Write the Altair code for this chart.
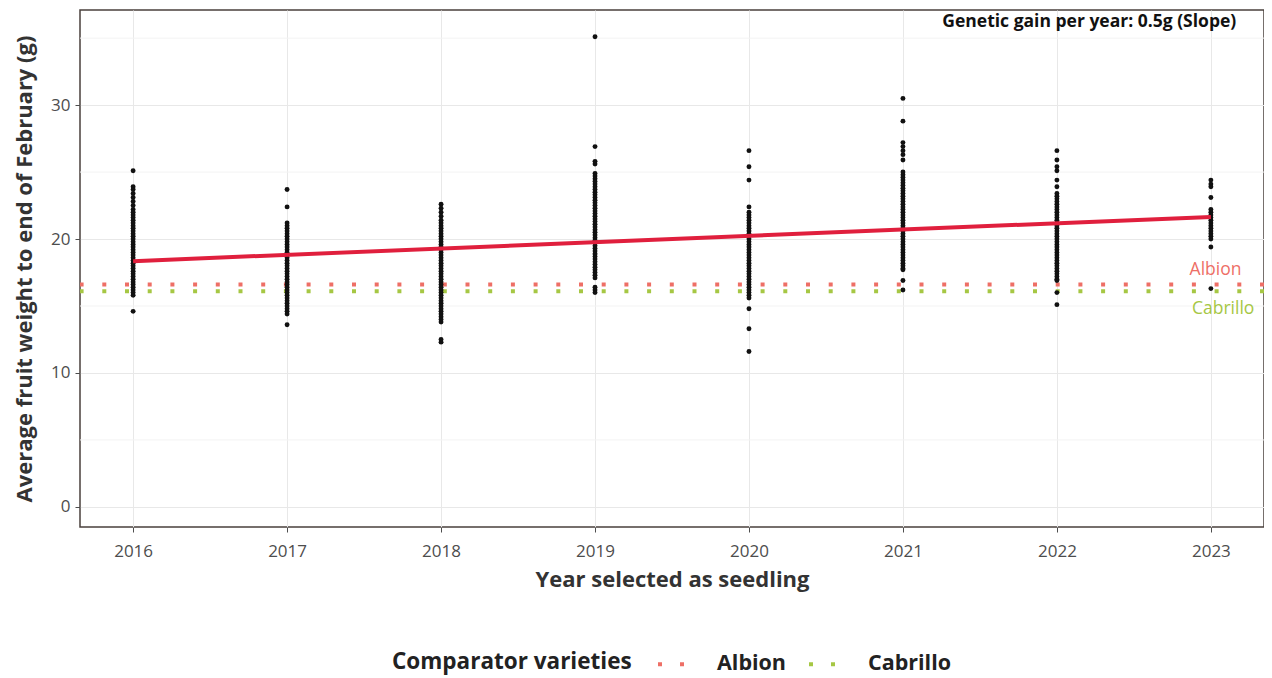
import altair as alt
import pandas as pd

years = [2016, 2017, 2018, 2019, 2020, 2021, 2022, 2023]

w2016 = [25.1, 23.9, 23.7, 23.4, 23.1, 22.8, 22.5, 22.2, 22.0, 21.8, 21.6, 21.4, 21.2, 21.0, 20.8, 20.6,
         20.4, 20.2, 20.0, 19.8, 19.6, 19.4, 19.2, 19.0, 18.8, 18.6, 18.4, 18.2, 18.0, 17.8, 17.6, 17.4,
         17.2, 17.0, 16.8, 16.6, 16.4, 16.2, 16.0, 15.8, 14.6]
w2017 = [23.7, 22.4, 21.2, 21.0, 20.8, 20.6, 20.4, 20.2, 20.0, 19.8, 19.6, 19.4, 19.2, 19.0, 18.8, 18.6,
         18.4, 18.2, 18.0, 17.8, 17.6, 17.4, 17.2, 17.0, 16.8, 16.6, 16.4, 16.2, 16.0, 15.8, 15.6, 15.4,
         15.2, 15.0, 14.8, 14.6, 14.4, 13.6]
w2018 = [22.6, 22.3, 22.0, 21.7, 21.4, 21.2, 21.0, 20.8, 20.6, 20.4, 20.2, 20.0, 19.8, 19.6, 19.4, 19.2,
         19.0, 18.8, 18.6, 18.4, 18.2, 18.0, 17.8, 17.6, 17.4, 17.2, 17.0, 16.8, 16.6, 16.4, 16.2, 16.0,
         15.8, 15.6, 15.4, 15.2, 15.0, 14.8, 14.6, 14.4, 14.2, 14.0, 13.8, 12.5, 12.3]
w2019 = [35.1, 26.9, 25.8, 25.6, 24.9, 24.7, 24.5, 24.3, 24.1, 23.9, 23.7, 23.5, 23.3, 23.1, 22.9, 22.7,
         22.5, 22.3, 22.1, 21.9, 21.7, 21.5, 21.3, 21.1, 20.9, 20.7, 20.5, 20.3, 20.1, 19.9, 19.7, 19.5,
         19.3, 19.1, 18.9, 18.7, 18.5, 18.3, 18.1, 17.9, 17.7, 17.5, 17.3, 17.1, 16.4, 16.2, 16.0]
w2020 = [26.6, 25.4, 24.4, 22.4, 22.0, 21.8, 21.6, 21.4, 21.2, 21.0, 20.8, 20.6, 20.4, 20.2, 20.0, 19.8,
         19.6, 19.4, 19.2, 19.0, 18.8, 18.6, 18.4, 18.2, 18.0, 17.8, 17.6, 17.4, 17.2, 17.0, 16.8, 16.6,
         16.4, 16.2, 16.0, 15.8, 15.6, 14.8, 13.3, 11.6]
w2021 = [30.5, 28.8, 27.2, 26.9, 26.6, 26.3, 25.9, 25.0, 24.8, 24.6, 24.4, 24.2, 24.0, 23.8, 23.6, 23.4,
         23.2, 23.0, 22.8, 22.6, 22.4, 22.2, 22.0, 21.8, 21.6, 21.4, 21.2, 21.0, 20.8, 20.6, 20.4, 20.2,
         20.0, 19.8, 19.6, 19.4, 19.2, 19.0, 18.8, 18.6, 18.4, 18.2, 18.0, 17.8, 17.7, 16.9, 16.2]
w2022 = [26.6, 25.9, 25.4, 25.1, 24.4, 23.9, 23.4, 23.2, 23.0, 22.8, 22.6, 22.4, 22.2, 22.0, 21.8, 21.6,
         21.4, 21.2, 21.0, 20.8, 20.6, 20.4, 20.2, 20.0, 19.8, 19.6, 19.4, 19.2, 19.0, 18.8, 18.6, 18.4,
         18.2, 18.0, 17.8, 17.6, 17.4, 17.2, 17.0, 16.9, 16.0, 15.1]
w2023 = [24.4, 24.1, 23.9, 23.1, 22.2, 22.0, 21.8, 21.6, 21.4, 21.2, 21.0, 20.8, 20.6, 20.4, 20.2, 20.0,
         19.4, 16.3]

fit_years = [2016, 2023]
fit_values = [18.35, 21.65]

comparator_names = ["Albion", "Cabrillo"]
comparator_values = [16.6, 16.1]
comparator_colors = ["#EE6F66", "#A6C744"]

minor_y = [5, 15, 25, 35]
x_ticks = years
y_ticks = [0, 10, 20, 30]

annotation = "Genetic gain per year: 0.5g (Slope)"

FONT = "Open Sans"

per_year = [w2016, w2017, w2018, w2019, w2020, w2021, w2022, w2023]
rows = []
for yr, vals in zip(years, per_year):
    for v in vals:
        rows.append({"year": yr, "weight": v})
pts = pd.DataFrame(rows)

fit = pd.DataFrame({"year": fit_years, "weight": fit_values})
comp = pd.DataFrame({"variety": comparator_names, "weight": comparator_values})
minor = pd.DataFrame({"weight": minor_y})

xscale = alt.Scale(domain=[2015.655, 2023.345], nice=False, zero=False)
yscale = alt.Scale(domain=[-1.5, 37.1], nice=False, zero=False)

xaxis = alt.Axis(values=x_ticks, format="d", title="Year selected as seedling",
                 labelPadding=11, titlePadding=10)
yaxis = alt.Axis(values=y_ticks, title="Average fruit weight to end of February (g)",
                 labelPadding=5, titlePadding=14)

minor_layer = alt.Chart(minor).mark_rule(color="#F3F3F3", strokeWidth=1).encode(
    y=alt.Y("weight:Q", scale=yscale, axis=yaxis)
)

points = alt.Chart(pts).mark_circle(size=24, color="#111111", opacity=1).encode(
    x=alt.X("year:Q", scale=xscale, axis=xaxis),
    y=alt.Y("weight:Q", scale=yscale, axis=yaxis),
)

comp_layer = alt.Chart(comp).mark_rule(strokeWidth=4, strokeDash=[4, 18.7], strokeCap="butt").encode(
    y=alt.Y("weight:Q", scale=yscale, axis=yaxis),
    color=alt.Color(
        "variety:N",
        scale=alt.Scale(domain=comparator_names, range=comparator_colors),
        legend=alt.Legend(
            title="Comparator varieties", orient="none", direction="horizontal",
            titleOrient="left", legendX=312, legendY=639, titleLimit=400, labelLimit=300,
            symbolType="stroke", symbolStrokeWidth=4, symbolDash=[4, 18],
            symbolSize=676, labelOffset=31, columnPadding=14, titlePadding=24,
            labelFontSize=21.5, labelFontWeight="bold", labelColor="#222222",
            titleFontSize=22.5, titleFontWeight="bold", titleColor="#222222",
        ),
    ),
)

fit_layer = alt.Chart(fit).mark_line(color="#E01F3D", strokeWidth=4).encode(
    x=alt.X("year:Q", scale=xscale, axis=xaxis),
    y=alt.Y("weight:Q", scale=yscale, axis=yaxis),
)

lab = pd.DataFrame({"variety": comparator_names, "x": [2023.03, 2023.08], "y": [17.7, 14.8]})
labels = alt.Chart(lab).mark_text(fontSize=17.5, font=FONT).encode(
    x=alt.X("x:Q", scale=xscale, axis=xaxis),
    y=alt.Y("y:Q", scale=yscale, axis=yaxis),
    text="variety:N",
    color=alt.Color("variety:N", scale=alt.Scale(domain=comparator_names, range=comparator_colors), legend=None),
)

ann = pd.DataFrame({"x": [2023.165], "y": [36.2], "t": [annotation]})
ann_layer = alt.Chart(ann).mark_text(fontSize=17.5, fontWeight="bold", font=FONT, align="right",
                                     baseline="middle", color="#111111").encode(
    x=alt.X("x:Q", scale=xscale, axis=xaxis),
    y=alt.Y("y:Q", scale=yscale, axis=yaxis),
    text="t:N",
)

chart = alt.layer(minor_layer, comp_layer, points, fit_layer, labels, ann_layer).properties(
    width=1184, height=517,
    autosize=alt.AutoSizeParams(type="none"),
    padding={"left": 72, "top": 2, "right": 0, "bottom": 151},
).configure(font=FONT).configure_view(
    stroke="#4A403C", strokeWidth=1.5
).configure_axis(
    labelFontSize=17, labelColor="#4D4D4D", titleFontSize=22, titleFontWeight="bold",
    titleColor="#333333", tickColor="#4D4D4D", tickSize=5, domain=False,
    gridColor="#E8E8E8", gridWidth=1,
)

chart.save("out.html", embed_options={"renderer": "svg", "actions": False})
